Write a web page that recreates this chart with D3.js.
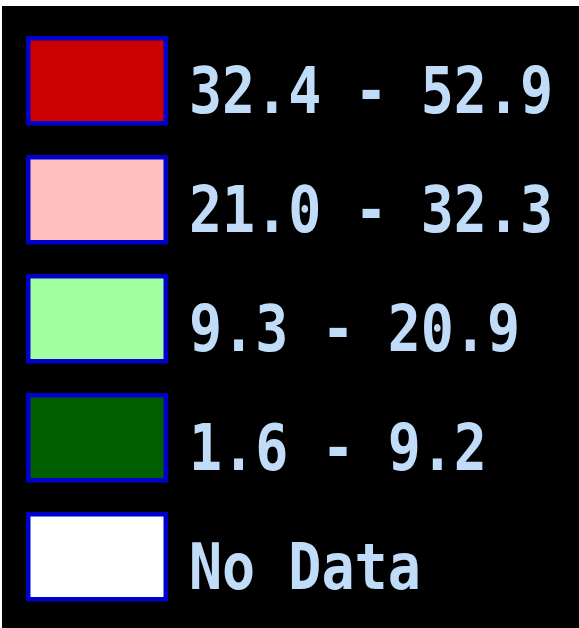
<!DOCTYPE html>
<html>
<head>
<meta charset="utf-8">
<script src="https://cdn.jsdelivr.net/npm/d3@7"></script>
<style>
  body { margin: 0; background: #ffffff; }
</style>
</head>
<body>
<script>
const width = 579;
const height = 628;

// legend classes, top to bottom
const labels = ["32.4 - 52.9", "21.0 - 32.3", "9.3 - 20.9", "1.6 - 9.2", "No Data"];
const fills = ["#cc0000", "#ffc0c0", "#a0ffa0", "#006000", "#ffffff"];

const svg = d3.select("body")
    .append("svg")
    .attr("width", width)
    .attr("height", height);

// black panel
svg.append("rect")
    .attr("x", 2)
    .attr("y", 6)
    .attr("width", width - 2)
    .attr("height", height - 6)
    .attr("fill", "#000000");

const yScale = d3.scaleBand()
    .domain(labels)
    .range([36, 36 + labels.length * 119]);

const rows = svg.append("g")
    .selectAll("g")
    .data(labels)
    .enter()
    .append("g")
    .attr("transform", d => `translate(0, ${yScale(d)})`);

rows.append("rect")
    .attr("x", 28.25)
    .attr("y", 2.25)
    .attr("width", 137.5)
    .attr("height", 85)
    .attr("fill", (d, i) => fills[i])
    .attr("stroke", "#0000cc")
    .attr("stroke-width", 4.5);

rows.append("text")
    .attr("transform", "translate(189, 77) scale(1, 1.17)")
    .attr("font-family", "DejaVu Sans Mono")
    .attr("font-weight", "bold")
    .attr("font-size", 55)
    .attr("fill", "#c0dcf8")
    .text(d => d);
</script>
</body>
</html>
